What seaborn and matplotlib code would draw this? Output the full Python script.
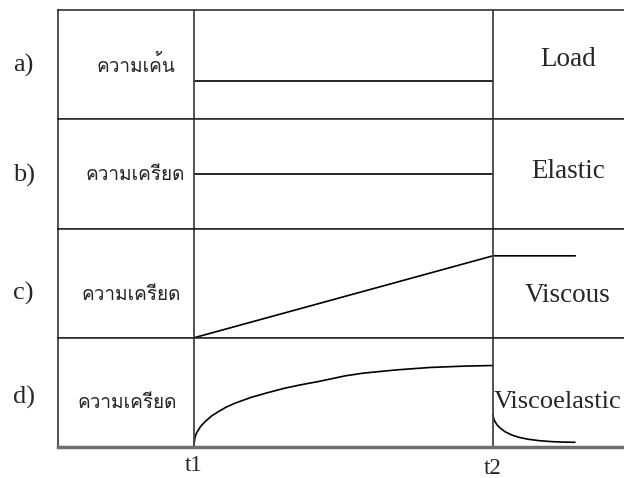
import matplotlib
matplotlib.use('Agg')
import pandas as pd
import matplotlib.pyplot as plt
import seaborn as sns
from matplotlib import font_manager
from matplotlib.ft2font import FT2Font
from matplotlib.transforms import ScaledTranslation

# time marks on the bottom axis
t_marks = [1.0, 3.0]
t_labels = ['t1', 't2']

row_tags = ['a)', 'b)', 'c)', 'd)']
row_names = ['ความเค้น', 'ความเครียด', 'ความเครียด', 'ความเครียด']
row_kinds = ['Load', 'Elastic', 'Viscous', 'Viscoelastic']

# a) load (stress)
load_t = [1.0, 3.0]
load_y = [0.35, 0.35]
# b) elastic strain
elastic_t = [1.0, 3.0]
elastic_y = [0.50, 0.50]
# c) viscous strain
viscous_t = [1.0, 3.0, 3.55]
viscous_y = [0.0, 0.75, 0.75]
# d) viscoelastic creep, then recovery after t2
creep_t = [1.0, 1.001, 1.004, 1.010, 1.018, 1.029, 1.045, 1.074, 1.115, 1.163, 1.215,
           1.274, 1.386, 1.500, 1.609, 1.720, 1.831, 2.010, 2.132, 2.356, 2.579, 2.801, 3.0]
creep_y = [0.0, 0.035, 0.07, 0.105, 0.132, 0.156, 0.190, 0.232, 0.282, 0.324, 0.365,
           0.401, 0.456, 0.500, 0.539, 0.571, 0.599, 0.651, 0.676, 0.706, 0.728, 0.740, 0.746]
recov_t = [3.0, 3.004, 3.013, 3.028, 3.047, 3.080, 3.125, 3.175, 3.234, 3.310, 3.393, 3.470, 3.548]
recov_y = [0.294, 0.262, 0.232, 0.200, 0.174, 0.140, 0.110, 0.088, 0.071, 0.058, 0.049, 0.045, 0.043]


def seg(t, y, name):
    return pd.DataFrame({'time': t, 'value': y, 'segment': name})


rows = [
    seg(load_t, load_y, 'load'),
    seg(elastic_t, elastic_y, 'elastic'),
    seg(viscous_t, viscous_y, 'viscous'),
    pd.concat([seg(creep_t, creep_y, 'creep'), seg(recov_t, recov_y, 'recovery')]),
]

sns.set_theme(style='white')
plt.rcParams['font.family'] = ['Liberation Serif', 'DejaVu Serif']

# pick an installed font that has Thai glyphs
thai_font = None
for f in font_manager.fontManager.ttflist:
    try:
        if 0x0E04 in FT2Font(f.fname).get_charmap():
            thai_font = f.name
            break
    except Exception:
        pass
thai_family = [thai_font, 'DejaVu Sans'] if thai_font else ['DejaVu Sans']

W, H = 624, 478
fig, axes = plt.subplots(4, 1, figsize=(W / 100, H / 100), dpi=100, sharex=True)
fig.subplots_adjust(left=58 / W, right=1.0, top=1 - 10 / H, bottom=1 - 447 / H, hspace=0)

for i, ax in enumerate(axes):
    sns.lineplot(data=rows[i], x='time', y='value', units='segment', estimator=None,
                 sort=False, color='black', lw=1.2, ax=ax)
    for t in t_marks:
        ax.axvline(t, color='#444444', lw=1.3)
    ax.set_xlim(0.09, 3.876)
    ax.set_ylim(0, 1)
    ax.set_xlabel('')
    ax.set_ylabel('')
    ax.set_yticks([])
    ax.spines['right'].set_visible(False)
    for s in ['left', 'top', 'bottom']:
        ax.spines[s].set_color('#222222')
        ax.spines[s].set_linewidth(1.1)
    ax.tick_params(length=0)

axes[-1].spines['bottom'].set_color('#6e6e6e')
axes[-1].spines['bottom'].set_linewidth(2.5)
axes[-1].set_xticks(t_marks)
axes[-1].set_xticklabels(t_labels, fontsize=16.5)
axes[-1].tick_params(axis='x', pad=6)
lab2 = axes[-1].get_xticklabels()[1]
lab2.set_transform(lab2.get_transform() + ScaledTranslation(0, -3 / 100, fig.dpi_scale_trans))

# left and right table text
tag_y = [65, 175, 293, 397]
name_x = [136, 135, 131, 127]
name_y = [65, 175, 295, 403]
kind_y = [60, 172, 295, 402]
for i in range(4):
    fig.text(13 / W, 1 - tag_y[i] / H, row_tags[i], fontsize=19, va='center', ha='left')
    fig.text(name_x[i] / W, 1 - name_y[i] / H, row_names[i], fontsize=13.7,
             va='center', ha='center', family=thai_family)
    if i < 3:
        fig.text(568 / W, 1 - kind_y[i] / H, row_kinds[i], fontsize=19.5, va='center', ha='center')
    else:
        fig.text(494 / W, 1 - kind_y[i] / H, row_kinds[i], fontsize=19, va='center', ha='left')

fig.savefig('out.png', dpi=100)
